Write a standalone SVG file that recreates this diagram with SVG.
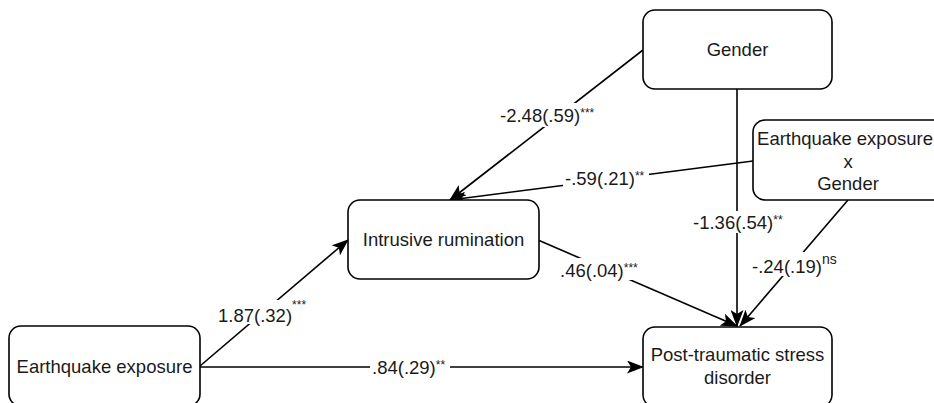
<svg xmlns="http://www.w3.org/2000/svg" width="934" height="403" viewBox="0 0 934 403">
<defs>
<style>
.box{fill:#fff;stroke:#000;stroke-width:1.6}
.t{font-family:"Liberation Sans",Arial,sans-serif;font-size:18.5px;fill:#1a1a1a;text-anchor:middle}
.lbl{font-family:"Liberation Sans",Arial,sans-serif;font-size:18.5px;fill:#1a1a1a}
.sup{font-size:12px}
.edge{fill:none;stroke:#000;stroke-width:1.6}
.bg{fill:#fff}
</style>
<marker id="arr" markerUnits="userSpaceOnUse" markerWidth="17" markerHeight="13" viewBox="0 0 17 13" refX="16" refY="6.5" orient="auto">
<path d="M0,0 L17,6.5 L0,13 L4,6.5 Z" fill="#000"/>
</marker>
</defs>
<rect width="934" height="403" fill="#fff"/>
<g id="connectors">
<path class="edge" d="M200,366 L348,240" marker-end="url(#arr)"/>
<path class="edge" d="M200,367 L643,367" marker-end="url(#arr)"/>
<path class="edge" d="M643,50 L450,200" marker-end="url(#arr)"/>
<path class="edge" d="M753,161 L450,200" marker-end="url(#arr)"/>
<path class="edge" d="M538,240 L737,326" marker-end="url(#arr)"/>
<path class="edge" d="M737,89 L737,326" marker-end="url(#arr)"/>
<path class="edge" d="M848,200 L740,326" marker-end="url(#arr)"/>
<g id="labels">
<rect class="bg" x="217" y="300" width="96" height="24"/>
<text class="lbl" x="218" y="322">1.87(.32)<tspan class="sup" dy="-13">***</tspan></text>
<rect class="bg" x="370" y="356" width="80" height="22"/>
<text class="lbl" x="372" y="374">.84(.29)<tspan class="sup" dy="-5">**</tspan></text>
<rect class="bg" x="498" y="103" width="106" height="24"/>
<text class="lbl" x="500" y="122">-2.48(.59)<tspan class="sup" dy="-5">***</tspan></text>
<rect class="bg" x="563" y="167" width="86" height="22"/>
<text class="lbl" x="565" y="185">-.59(.21)<tspan class="sup" dy="-5">**</tspan></text>
<rect class="bg" x="558" y="258" width="86" height="22"/>
<text class="lbl" x="560" y="277">.46(.04)<tspan class="sup" dy="-5">***</tspan></text>
<rect class="bg" x="691" y="211" width="98" height="22"/>
<text class="lbl" x="693" y="229">-1.36(.54)<tspan class="sup" dy="-5">**</tspan></text>
<rect class="bg" x="751" y="252" width="90" height="24"/>
<text class="lbl" x="752" y="273">-.24(.19)<tspan dy="-9" style="font-size:14px">ns</tspan></text>
</g>
</g>
<g id="gender">
<rect class="box" x="643" y="10" width="189" height="79" rx="12"/>
<text class="t" x="737.5" y="56">Gender</text>
</g>
<g id="interaction">
<rect class="box" x="753" y="120" width="192" height="80" rx="12"/>
<text class="t" x="845" y="145">Earthquake exposure</text>
<text class="t" x="848" y="168">x</text>
<text class="t" x="848" y="190">Gender</text>
</g>
<g id="rumination">
<rect class="box" x="348" y="200" width="191" height="79" rx="12"/>
<text class="t" x="443.5" y="246">Intrusive rumination</text>
</g>
<g id="exposure">
<rect class="box" x="9" y="326" width="191" height="80" rx="12"/>
<text class="t" x="104.5" y="373">Earthquake exposure</text>
</g>
<g id="ptsd">
<rect class="box" x="643" y="327" width="189" height="80" rx="12"/>
<text class="t" x="737.5" y="361">Post-traumatic stress</text>
<text class="t" x="737.5" y="384">disorder</text>
</g>
</svg>
